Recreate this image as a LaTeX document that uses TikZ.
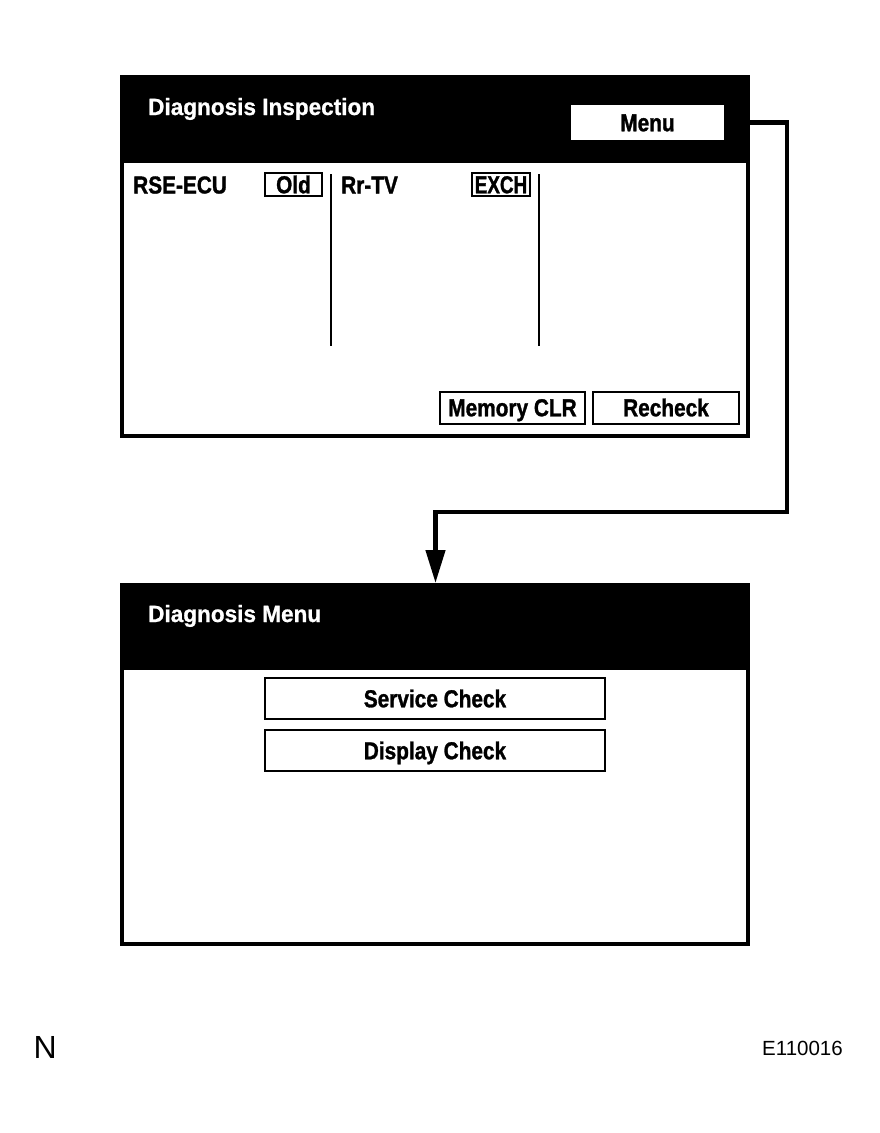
\documentclass[tikz,border=0pt]{standalone}
\usepackage{fontspec}
\setmainfont{Liberation Sans}
\newfontfamily\cbold[FakeStretch=0.85,FakeBold=1.2]{Liberation Sans}
\newfontfamily\cnarrow[FakeStretch=0.77,FakeBold=1.2]{Liberation Sans}
\newfontfamily\hbold[FakeStretch=0.96,FakeBold=0.8]{Liberation Sans}
\usetikzlibrary{arrows.meta}
\tikzset{
  screen/.style={draw=black, line width=4pt, fill=white, inner sep=0pt, outer sep=0pt, anchor=north west},
  hdr/.style={fill=black, draw=none, inner sep=0pt, outer sep=0pt, anchor=north west},
  hdrtext/.style={text=white, inner sep=0pt, anchor=base west, font=\hbold\bfseries\fontsize{23.5}{23.5}\selectfont},
  lbl/.style={inner sep=0pt, anchor=base west, font=\cbold\bfseries\fontsize{24.5}{24.5}\selectfont},
  btn/.style={draw=black, line width=2pt, fill=white, inner sep=0pt, outer sep=0pt,
              text height=17.5pt, text depth=0pt, font=\cbold\bfseries\fontsize{24.5}{24.5}\selectfont},
  narrowbtn/.style={btn, font=\cnarrow\bfseries\fontsize{24.5}{24.5}\selectfont},
  menubtn/.style={btn, draw=none},
  divider/.style={line width=2pt},
  conn/.style={line width=4.5pt, -{Triangle[length=33pt,width=19pt]}},
}
\begin{document}
\begin{tikzpicture}[x=1pt,y=-1pt]
\useasboundingbox (0,0) rectangle (879,1133);

% ---- top screen ----
\node[screen, minimum width=626pt, minimum height=359pt] (topscr) at (122,77) {};
\node[hdr, minimum width=630pt, minimum height=88pt] (tophd) at (120,75) {};
\node[hdrtext] (toptitle) at (148,115) {Diagnosis Inspection};
\node[menubtn, minimum width=153pt, minimum height=35pt] (menu) at (647.5,122.5) {Menu};

\node[lbl] (rse) at (133,193.5) {RSE-ECU};
\node[btn, minimum width=57pt, minimum height=23pt] (old) at (293.5,184.5) {Old};
\node[lbl] (rrtv) at (341,193.5) {Rr-TV};
\node[narrowbtn, minimum width=58pt, minimum height=23pt] (exch) at (501,184.5) {EXCH};
\draw[divider] (331,174) -- (331,346);
\draw[divider] (539,174) -- (539,346);

\node[btn, minimum width=145pt, minimum height=32pt] (memclr) at (512.5,407.5) {Memory CLR};
\node[btn, minimum width=146pt, minimum height=32pt] (recheck) at (666,407.5) {Recheck};

% ---- bottom screen ----
\node[screen, minimum width=626pt, minimum height=359pt] (botscr) at (122,585) {};
\node[hdr, minimum width=630pt, minimum height=87pt] (bothd) at (120,583) {};
\node[hdrtext] (bottitle) at (148,622) {Diagnosis Menu};
\node[btn, minimum width=340pt, minimum height=41pt] (svc) at (435,698.5) {Service Check};
\node[btn, minimum width=340pt, minimum height=41pt] (disp) at (435,750.5) {Display Check};

% ---- connector ----
\coordinate (turnA) at (787,512);
\coordinate (dropx) at (435.5,512);
\draw[conn] (menu.east) -| (turnA) -- (dropx) -- (dropx |- bothd.north);

% ---- footer ----
\node[inner sep=0pt, anchor=base west, font=\fontsize{32}{32}\selectfont] (nmark) at (33.5,1058) {N};
\node[inner sep=0pt, anchor=base east, font=\fontsize{20.5}{20.5}\selectfont] (code) at (843,1055) {E110016};
\end{tikzpicture}
\end{document}
